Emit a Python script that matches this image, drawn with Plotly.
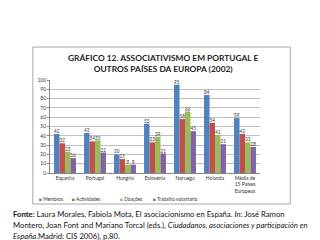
import plotly.graph_objects as go

categories = ["Espanha", "Portugal", "Hungria", "Eslovénia", "Noruega", "Holanda",
              "Média de<br>15 Países<br>Europeus"]
series_names = ["Membros", "Actividades", "Doações", "Trabalho voluntário"]
membros = [42, 43, 20, 53, 95, 84, 59]
actividades = [32, 34, 15, 33, 58, 54, 42]
doacoes = [23, 35, 9, 39, 66, 41, 33]
trabalho = [16, 22, 9, 21, 45, 31, 28]
series_values = [membros, actividades, doacoes, trabalho]
colors = ["#4F81BD", "#C0504D", "#9BBB59", "#8064A2"]
y_ticks = list(range(0, 101, 10))

FONT = "Lato, 'Open Sans', sans-serif"
W, H = 320, 240

fig = go.Figure()
for name, vals, col in zip(series_names, series_values, colors):
    fig.add_trace(go.Bar(
        x=categories, y=vals, name=name, marker=dict(color=col, line=dict(width=0)),
        text=[str(v) for v in vals], textposition="outside",
        textfont=dict(size=5, color="#333333", family=FONT),
        cliponaxis=False, showlegend=False,
    ))

# chart box
fig.add_shape(type="rect", xref="paper", yref="paper",
              x0=(33 - 50) / 208, x1=(288 - 50) / 208,
              y0=(173 - 204) / 93, y1=(173 - 47) / 93,
              line=dict(color="#A6A6A6", width=1), fillcolor="rgba(0,0,0,0)", layer="below")

# title
fig.add_annotation(text="<b>GRÁFICO 12. ASSOCIATIVISMO EM PORTUGAL E<br>OUTROS PAÍSES DA EUROPA (2002)</b>",
                   xref="paper", yref="paper", x=(162 - 50) / 208, y=(173 - 64) / 93,
                   showarrow=False, font=dict(size=8.4, color="#222222", family=FONT),
                   align="center", xanchor="center", yanchor="middle")

# legend (manual)
leg_x = [37, 70, 117, 150]
for name, col, lx in zip(series_names, colors, leg_x):
    fig.add_annotation(text=f"<span style='color:{col}'>■</span> {name}",
                       xref="paper", yref="paper", x=(lx - 50) / 208, y=(173 - 199) / 93,
                       showarrow=False, font=dict(size=4.8, color="#333333", family=FONT),
                       xanchor="left", yanchor="middle")

# footer
footer_lines = [
    "<b>Fonte:</b> Laura Morales, Fabiola Mota, El asociacionismo en España. <i>In</i>: José Ramon",
    "Montero, Joan Font and Mariano Torcal (eds.), <i>Ciudadanos, asociaciones y participación en</i>",
    "<i>España</i>.Madrid: CIS 2006), p.80.",
]
for i, line in enumerate(footer_lines):
    fig.add_annotation(text=line, xref="paper", yref="paper", x=(11 - 50) / 208,
                       y=(173 - (213.5 + 11.3 * i)) / 93,
                       showarrow=False, font=dict(size=7.7, color="#111111", family=FONT),
                       align="left", xanchor="left", yanchor="middle")

fig.update_layout(
    width=W, height=H, paper_bgcolor="white", plot_bgcolor="white",
    margin=dict(l=50, r=W - 260, t=80, b=H - 173),
    barmode="group", bargap=0.27, bargroupgap=0,
    showlegend=False,
    font=dict(family=FONT, size=5, color="#333333"),
)
fig.update_yaxes(range=[0, 100], tickvals=y_ticks, showgrid=True, gridcolor="#BFBFBF", gridwidth=0.7,
                 showline=True, linecolor="#868686", linewidth=0.7, ticks="outside", ticklen=2,
                 tickcolor="#868686", tickfont=dict(size=5, color="#333333"), zeroline=False)
fig.update_xaxes(showline=True, linecolor="#868686", linewidth=0.7, ticks="",
                 tickfont=dict(size=5, color="#333333"))

fig.write_html("out.html")
